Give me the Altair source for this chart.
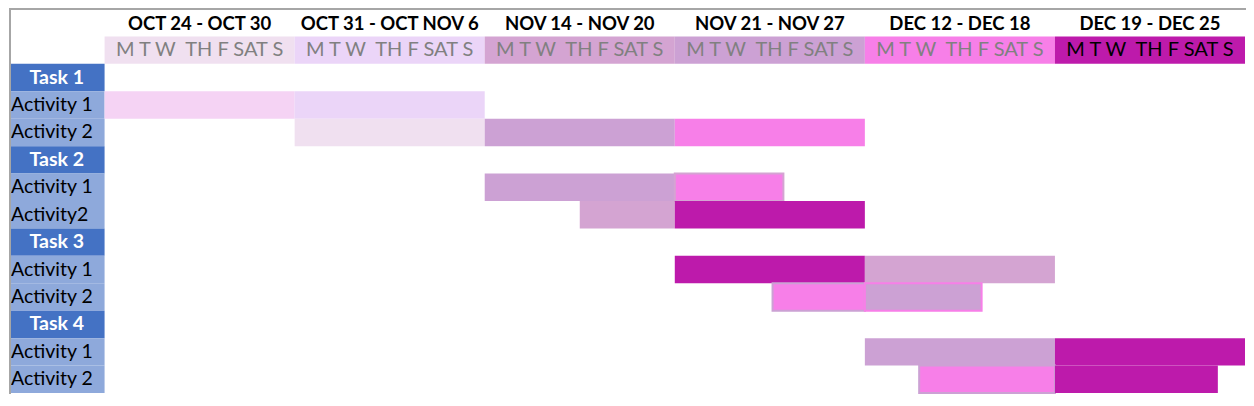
import altair as alt
import pandas as pd

# ---------------- data ----------------
weeks = ["OCT 24 - OCT 30", "OCT 31 - OCT NOV 6", "NOV 14 - NOV 20",
         "NOV 21 - NOV 27", "DEC 12 - DEC 18", "DEC 19 - DEC 25"]
week_colors = ["#F0E0F0", "#EBD5F8", "#D4A4D2", "#CCA1D4", "#F77FE8", "#BD1AAB"]
day_letters = "M T W\u00a0\u00a0TH F SAT S"
day_text_colors = ["#808080", "#808080", "#808080", "#808080", "#808080", "#000000"]

row_labels = ["Task 1", "Activity 1", "Activity 2",
              "Task 2", "Activity 1", "Activity2",
              "Task 3", "Activity 1", "Activity 2",
              "Task 4", "Activity 1", "Activity 2"]
row_is_task = [True, False, False, True, False, False,
               True, False, False, True, False, False]

# bar segments (row index, start day, end day, fill, border)
seg_row = [1, 1, 2, 2, 2, 4, 4, 5, 5, 7, 7, 8, 8, 10, 10, 11, 11]
seg_start = [0, 7, 7, 14, 21, 14, 21, 17.5, 21, 21, 28, 24.6, 28, 28, 35, 30, 35]
seg_end = [7, 14, 14, 21, 28, 21, 25, 21, 28, 28, 35, 28, 32.3, 35, 42, 35, 41]
seg_fill = ["#F5D3F4", "#EBD5F8",
            "#F0E0F0", "#CCA1D4", "#F77FE8",
            "#CCA1D4", "#F77FE8",
            "#D4A4D2", "#BD1AAB",
            "#BD1AAB", "#D4A4D2",
            "#F77FE8", "#CCA1D4",
            "#CCA1D4", "#BD1AAB",
            "#F77FE8", "#BD1AAB"]
seg_stroke = ["none", "none",
              "none", "none", "none",
              "none", "#D4A4D2",
              "none", "none",
              "none", "none",
              "#CCA1D4", "#F77FE8",
              "none", "none",
              "#CCA1D4", "none"]

# ---------------- layout ----------------
DAYS_PER_WEEK = 7
LABEL_X = -3.52           # left label column, in day units
HEADER_ROWS = 2
N_ROWS = HEADER_ROWS + len(row_labels)
TASK_BLUE = "#4472C4"
ACT_BLUE = "#8EA9DB"

header_df = pd.DataFrame({
    "week": weeks,
    "x0": [i * DAYS_PER_WEEK for i in range(len(weeks))],
    "x1": [(i + 1) * DAYS_PER_WEEK for i in range(len(weeks))],
    "xm": [i * DAYS_PER_WEEK + DAYS_PER_WEEK / 2 for i in range(len(weeks))],
    "fill": week_colors,
    "tcolor": day_text_colors,
    "days": [day_letters] * len(weeks),
    "y0": [1] * len(weeks), "y1": [2] * len(weeks),
    "ym": [1.5] * len(weeks), "yt": [0.5] * len(weeks),
})

label_df = pd.DataFrame({
    "label": row_labels,
    "task": row_is_task,
    "y0": [HEADER_ROWS + i for i in range(len(row_labels))],
    "y1": [HEADER_ROWS + i + 1 for i in range(len(row_labels))],
    "ym": [HEADER_ROWS + i + 0.5 for i in range(len(row_labels))],
    "fill": [TASK_BLUE if t else ACT_BLUE for t in row_is_task],
    "x0": [LABEL_X] * len(row_labels), "x1": [0] * len(row_labels),
    "xm": [LABEL_X / 2] * len(row_labels),
})

seg_df = pd.DataFrame({
    "y0": [HEADER_ROWS + r for r in seg_row],
    "y1": [HEADER_ROWS + r + 1 for r in seg_row],
    "x0": seg_start, "x1": seg_end,
    "fill": seg_fill, "stroke": seg_stroke,
    "sw": [0 if s == "none" else 2 for s in seg_stroke],
})

xs = alt.Scale(domain=[LABEL_X, len(weeks) * DAYS_PER_WEEK], nice=False, zero=False)
ys = alt.Scale(domain=[0, N_ROWS], nice=False, zero=False, reverse=True)
X = lambda f: alt.X(f, type="quantitative", scale=xs, axis=None)
Y = lambda f: alt.Y(f, type="quantitative", scale=ys, axis=None)

FONT = "Lato"

hdr_rect = alt.Chart(header_df).mark_rect().encode(
    x=X("x0"), x2="x1", y=Y("y0"), y2="y1",
    fill=alt.Fill("fill:N", scale=None))
hdr_title = alt.Chart(header_df).mark_text(
    font=FONT, fontSize=18.5, fontWeight="bold", color="#000000", baseline="middle", dy=1
).encode(x=X("xm"), y=Y("yt"), text="week:N")
hdr_days = alt.Chart(header_df).mark_text(
    font=FONT, fontSize=20, baseline="middle"
).encode(x=X("xm"), y=Y("ym"), text="days:N", color=alt.Color("tcolor:N", scale=None))

lab_rect = alt.Chart(label_df).mark_rect().encode(
    x=X("x0"), x2="x1", y=Y("y0"), y2="y1",
    fill=alt.Fill("fill:N", scale=None))
lab_task = alt.Chart(label_df).transform_filter("datum.task").mark_text(
    font=FONT, fontSize=19.5, fontWeight="bold", color="white", baseline="middle"
).encode(x=X("xm"), y=Y("ym"), text="label:N")
lab_act = alt.Chart(label_df).transform_filter("!datum.task").mark_text(
    font=FONT, fontSize=19.5, color="black", baseline="middle", align="left", dx=2
).encode(x=X("x0"), y=Y("ym"), text="label:N")

bars = alt.Chart(seg_df).mark_rect().encode(
    x=X("x0"), x2="x1", y=Y("y0"), y2="y1",
    fill=alt.Fill("fill:N", scale=None),
    stroke=alt.Stroke("stroke:N", scale=None),
    strokeWidth=alt.StrokeWidth("sw:Q", scale=None))

top_rule = alt.Chart(header_df).mark_rule(color="#A6A6A6", strokeWidth=2).encode(
    x=alt.value(0), x2=alt.value(1238), y=alt.value(0))
left_rule = alt.Chart(header_df).mark_rule(color="#A6A6A6", strokeWidth=2).encode(
    x=alt.value(1), y=alt.value(0), y2=alt.value(386))

chart = alt.layer(hdr_rect, hdr_title, hdr_days, lab_rect, lab_task, lab_act,
                  bars, top_rule, left_rule).properties(
    width=1238, height=386, padding=0,
    autosize=alt.AutoSizeParams(type="fit", contains="padding"),
    background="white",
).configure_view(stroke=None)

chart.save("out.html", embed_options={"renderer": "svg", "actions": False})
